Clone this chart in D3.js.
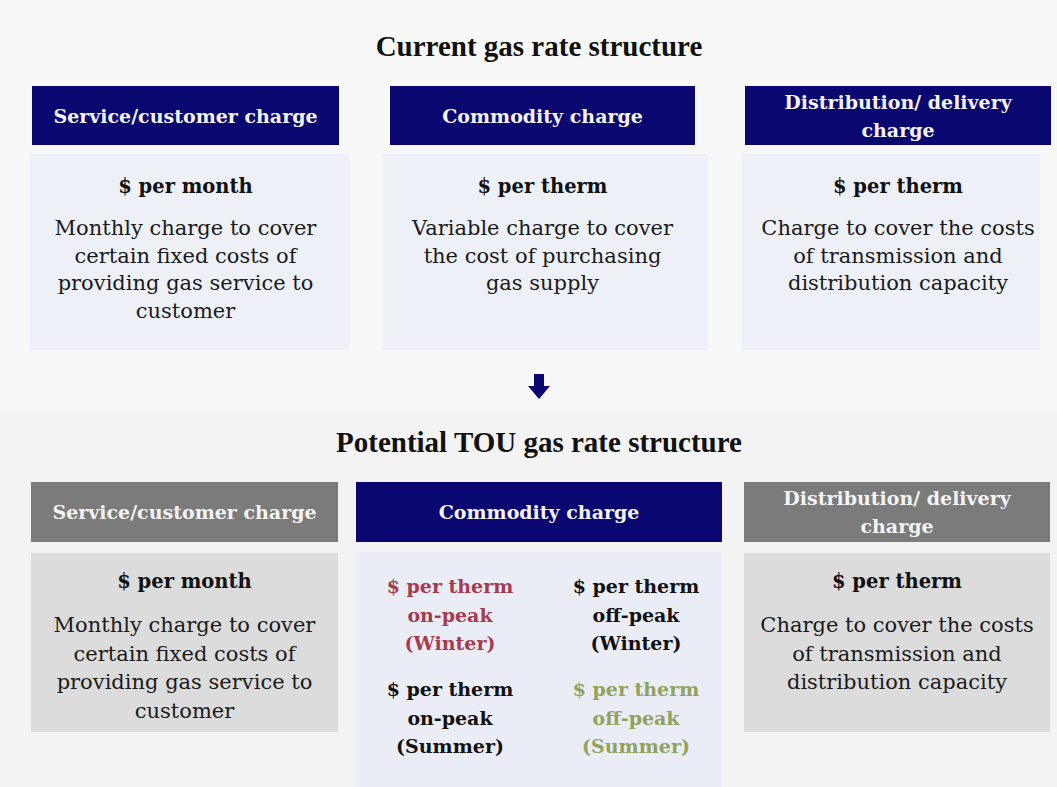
<!DOCTYPE html>
<html>
<head>
<meta charset="utf-8">
<script src="https://cdn.jsdelivr.net/npm/d3@7"></script>
<style>
  html, body { margin: 0; padding: 0; background: #f7f7f7; }
  svg { display: block; }
</style>
</head>
<body>
<svg id="chart" width="1057" height="787"></svg>
<script>
// ---- data ----
const sectionTitles = ["Current gas rate structure", "Potential TOU gas rate structure"];
const categories = [["Service/customer charge"], ["Commodity charge"], ["Distribution/ delivery", "charge"]];
const units = ["$ per month", "$ per therm", "$ per therm"];
const descriptions = [
  ["Monthly charge to cover", "certain fixed costs of", "providing gas service to", "customer"],
  ["Variable charge to cover", "the cost of purchasing", "gas supply"],
  ["Charge to cover the costs", "of transmission and", "distribution capacity"]
];
const touLabels = [
  ["$ per therm", "on-peak", "(Winter)"],
  ["$ per therm", "off-peak", "(Winter)"],
  ["$ per therm", "on-peak", "(Summer)"],
  ["$ per therm", "off-peak", "(Summer)"]
];
const touColumn = ["left", "right", "left", "right"];
const touRow = ["winter", "winter", "summer", "summer"];
const touColors = ["#a63a4f", "#111111", "#111111", "#8fa35c"];
const bottomHighlight = [false, true, false];

// ---- layout ----
const svg = d3.select("#chart");
const W = 1057, H = 787;
const FONT = "'DejaVu Serif', 'Liberation Serif', serif";
const NAVY = "#0b0770", GREY = "#7b7b7b";

// background
svg.append("rect").attr("width", W).attr("height", H).attr("fill", "#f8f8f8");
svg.append("rect").attr("x", 0).attr("y", 410).attr("width", W).attr("height", H - 410).attr("fill", "#f3f3f3");

// column positions
const topCols = d3.scaleOrdinal().domain([0, 1, 2]).range([[32, 339], [390, 695], [745, 1051]]);
const topPanels = d3.scaleOrdinal().domain([0, 1, 2]).range([[30, 350], [383, 708], [742, 1040]]);
const botCols = d3.scaleOrdinal().domain([0, 1, 2]).range([[31, 338], [356, 722], [744, 1050]]);

// section titles
const titleY = d3.scaleOrdinal().domain([0, 1]).range([56, 452]);
svg.selectAll("text.section").data(sectionTitles).join("text")
  .attr("class", "section")
  .attr("x", 539).attr("y", (d, i) => titleY(i))
  .attr("text-anchor", "middle")
  .attr("font-family", "'Liberation Serif', serif")
  .attr("font-weight", "bold")
  .attr("font-size", 29)
  .attr("fill", "#111")
  .text(d => d);

function header(g, x0, x1, y0, y1, fill, lines) {
  g.append("rect").attr("x", x0).attr("y", y0).attr("width", x1 - x0).attr("height", y1 - y0).attr("fill", fill);
  const cx = (x0 + x1) / 2, cy = (y0 + y1) / 2;
  const lh = 28;
  const start = cy - (lines.length - 1) * lh / 2 + 7;
  g.selectAll(null).data(lines).join("text")
    .attr("x", cx).attr("y", (d, i) => start + i * lh)
    .attr("text-anchor", "middle")
    .attr("font-family", FONT).attr("font-weight", "bold").attr("font-size", 19)
    .attr("fill", "#f4f4f4")
    .text(d => d);
}

function body(g, cx, yUnit, unit, lines, gap, lh) {
  g.append("text").attr("x", cx).attr("y", yUnit)
    .attr("text-anchor", "middle")
    .attr("font-family", FONT).attr("font-weight", "bold").attr("font-size", 19.5)
    .attr("fill", "#111").text(unit);
  g.selectAll(null).data(lines).join("text")
    .attr("x", cx).attr("y", (d, i) => yUnit + gap + i * lh)
    .attr("text-anchor", "middle")
    .attr("font-family", FONT).attr("font-size", 21)
    .attr("fill", "#1a1a1a")
    .text(d => d);
}

// ---- top row ----
categories.forEach((cat, i) => {
  const g = svg.append("g");
  const [px0, px1] = topPanels(i);
  g.append("rect").attr("x", px0).attr("y", 154).attr("width", px1 - px0).attr("height", 196).attr("fill", "#edf0f7");
  const [x0, x1] = topCols(i);
  header(g, x0, x1, 86, 145, NAVY, cat);
  body(g, (x0 + x1) / 2, 193, units[i], descriptions[i], 42, 27.7);
});

// ---- arrow ----
const ax = 539;
svg.append("path")
  .attr("d", d3.line()([[ax - 5, 374], [ax + 5, 374], [ax + 5, 386], [ax + 11, 386], [ax, 399], [ax - 11, 386], [ax - 5, 386]]) + "Z")
  .attr("fill", NAVY);

// ---- bottom row ----
categories.forEach((cat, i) => {
  const g = svg.append("g");
  const [x0, x1] = botCols(i);
  const hl = bottomHighlight[i];
  if (hl) {
    g.append("rect").attr("x", x0).attr("y", 552).attr("width", x1 - x0).attr("height", H - 552).attr("fill", "#eaedf6");
  } else {
    g.append("rect").attr("x", x0).attr("y", 553).attr("width", x1 - x0).attr("height", 179).attr("fill", "#dcdcdc");
  }
  header(g, x0, x1, 482, 542, hl ? NAVY : GREY, cat);
  if (!hl) body(g, (x0 + x1) / 2, 588, units[i], descriptions[i], 44, 28.7);
});

// TOU commodity cells
const colX = d3.scaleOrdinal().domain(["left", "right"]).range([450, 636]);
const rowY = d3.scaleOrdinal().domain(["winter", "summer"]).range([593, 696]);
const tou = svg.append("g");
touLabels.forEach((lines, k) => {
  tou.selectAll(null).data(lines).join("text")
    .attr("x", colX(touColumn[k]))
    .attr("y", (d, i) => rowY(touRow[k]) + i * 28.5)
    .attr("text-anchor", "middle")
    .attr("font-family", FONT).attr("font-weight", "bold").attr("font-size", 19)
    .attr("fill", touColors[k])
    .text(d => d);
});
</script>
</body>
</html>
